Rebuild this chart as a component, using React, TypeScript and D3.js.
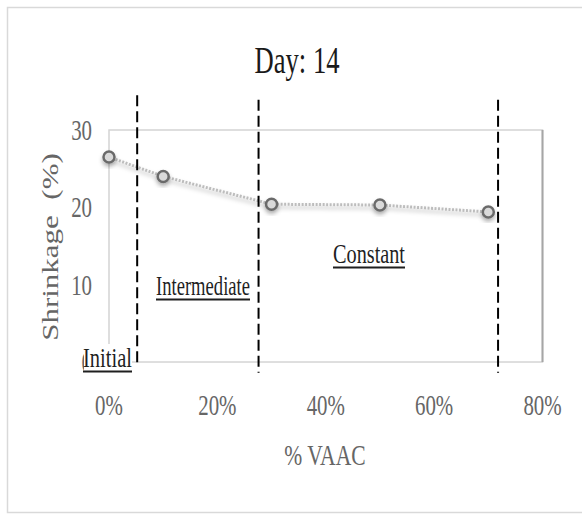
import * as d3 from "d3";
import { useEffect, useRef } from "react";

// values
const vaac = [0, 0.1, 0.3, 0.5, 0.7];
const shrinkage = [26.5, 24.0, 20.4, 20.3, 19.4];
const xTicks = [0, 0.2, 0.4, 0.6, 0.8];
const yTicks = [0, 10, 20, 30];
// zone boundaries (in % VAAC) and the vertical span of each dashed line (in shrinkage units)
const boundaries = [0.052, 0.276, 0.718];
const boundaryTop = [34.5, 33.9, 33.9];
const boundaryBottom = [-0.6, -1.4, -1.4];
const zones = ["Initial", "Intermediate", "Constant"];

const App = () => {
  const ref = useRef<SVGSVGElement>(null);

  useEffect(() => {
    const svg = d3.select(ref.current);
    svg.selectAll("*").remove();
    const width = 582;
    const height = 516;
    const sx = 0.72; // the picture is squeezed horizontally
    const font = "'Liberation Serif', 'Times New Roman', serif";

    svg.attr("width", width).attr("height", height);

    const defs = svg.append("defs");
    const shadow = defs
      .append("filter")
      .attr("id", "shadow")
      .attr("x", "-50%")
      .attr("y", "-50%")
      .attr("width", "200%")
      .attr("height", "200%");
    shadow
      .append("feDropShadow")
      .attr("dx", 0)
      .attr("dy", 3)
      .attr("stdDeviation", 2)
      .attr("flood-color", "#000")
      .attr("flood-opacity", 0.3);

    // outer frame
    svg
      .append("rect")
      .attr("x", 7.5)
      .attr("y", 7.5)
      .attr("width", 580)
      .attr("height", 505)
      .attr("fill", "#fff")
      .attr("stroke", "#d9d9d9")
      .attr("stroke-width", 1.5);

    const margin = { top: 130, right: 40, bottom: 154, left: 109 };

    const xScale = d3
      .scaleLinear()
      .domain([0, 0.8])
      .range([margin.left, 542.5]);

    const yScale = d3
      .scaleLinear()
      .domain([0, 30])
      .range([height - margin.bottom, margin.top]);

    const [x0, x1] = xScale.range();
    const [yb, yt] = yScale.range();

    // plot area border
    svg
      .append("rect")
      .attr("x", x0)
      .attr("y", yt)
      .attr("width", x1 - x0)
      .attr("height", yb - yt)
      .attr("fill", "none")
      .attr("stroke", "#d4d4d4")
      .attr("stroke-width", 1.5);
    svg
      .append("line")
      .attr("x1", x1)
      .attr("x2", x1)
      .attr("y1", yt)
      .attr("y2", yb)
      .attr("stroke", "#a6a6a6")
      .attr("stroke-width", 2);

    // x axis line
    svg
      .append("line")
      .attr("x1", x0)
      .attr("x2", x1)
      .attr("y1", yb)
      .attr("y2", yb)
      .attr("stroke", "#7f7f7f")
      .attr("stroke-width", 3)
      .attr("filter", "url(#shadow)");

    // tick labels
    svg
      .append("g")
      .selectAll("text")
      .data(xTicks)
      .enter()
      .append("text")
      .attr("transform", (d) => `translate(${xScale(d)},415) scale(${sx},1)`)
      .attr("text-anchor", "middle")
      .attr("font-family", font)
      .attr("font-size", 29)
      .attr("fill", "#666")
      .text(d3.format(".0%"));

    svg
      .append("g")
      .selectAll("text")
      .data(yTicks)
      .enter()
      .append("text")
      .attr("transform", (d) => `translate(92,${yScale(d) + 10}) scale(${sx},1)`)
      .attr("text-anchor", "end")
      .attr("font-family", font)
      .attr("font-size", 29)
      .attr("fill", "#666")
      .text((d) => d);

    // titles
    svg
      .append("text")
      .attr("transform", `translate(297,73) scale(${sx},1)`)
      .attr("text-anchor", "middle")
      .attr("font-family", font)
      .attr("font-size", 37)
      .attr("fill", "#1a1a1a")
      .text("Day: 14");

    svg
      .append("text")
      .attr("transform", `translate(325,465) scale(${sx},1)`)
      .attr("text-anchor", "middle")
      .attr("font-family", font)
      .attr("font-size", 30)
      .attr("fill", "#666")
      .text("% VAAC");

    svg
      .append("text")
      .attr("transform", `translate(58,247) scale(${sx},1) rotate(-90)`)
      .attr("text-anchor", "middle")
      .attr("font-family", font)
      .attr("font-size", 31)
      .attr("fill", "#666")
      .attr("xml:space", "preserve")
      .text("Shrinkage  (%)");

    // series
    const pts = vaac.map((v, i) => [xScale(v), yScale(shrinkage[i])] as [number, number]);
    const line = d3.line();
    svg
      .append("path")
      .attr("d", line(pts))
      .attr("fill", "none")
      .attr("stroke", "#bdbdbd")
      .attr("stroke-width", 3)
      .attr("stroke-dasharray", "2,1.5")
      .attr("filter", "url(#shadow)");

    svg
      .append("g")
      .selectAll("circle")
      .data(pts)
      .enter()
      .append("circle")
      .attr("cx", (d) => d[0])
      .attr("cy", (d) => d[1])
      .attr("r", 5.5)
      .attr("fill", "#d9d9d9")
      .attr("stroke", "#6b6b6b")
      .attr("stroke-width", 2.5)
      .attr("filter", "url(#shadow)");

    // zone labels
    const labelPos = [
      { x: 83, y: 367, w: 49 },
      { x: 156, y: 295, w: 94 },
      { x: 333, y: 263, w: 72 },
    ];
    svg
      .append("rect")
      .attr("x", 84)
      .attr("y", 344)
      .attr("width", 48)
      .attr("height", 32)
      .attr("fill", "#fff");

    const labels = svg.append("g");
    zones.forEach((z, i) => {
      const p = labelPos[i];
      labels
        .append("text")
        .attr("x", p.x)
        .attr("y", p.y)
        .attr("textLength", p.w)
        .attr("lengthAdjust", "spacingAndGlyphs")
        .attr("font-family", font)
        .attr("font-size", 28)
        .attr("fill", "#1f1f1f")
        .text(z);
      labels
        .append("line")
        .attr("x1", p.x)
        .attr("x2", p.x + p.w)
        .attr("y1", p.y + 4.5)
        .attr("y2", p.y + 4.5)
        .attr("stroke", "#1f1f1f")
        .attr("stroke-width", 2);
    });

    // dashed zone boundaries
    svg
      .append("g")
      .selectAll("line")
      .data(boundaries)
      .enter()
      .append("line")
      .attr("x1", (d) => xScale(d))
      .attr("x2", (d) => xScale(d))
      .attr("y1", (_, i) => yScale(boundaryTop[i]))
      .attr("y2", (_, i) => yScale(boundaryBottom[i]))
      .attr("stroke", "#000")
      .attr("stroke-width", 2)
      .attr("stroke-dasharray", "11,5");
  }, []);

  return (
    <svg ref={ref} style={{ position: "absolute", left: 0, top: 0 }}></svg>
  );
};

export default App;
